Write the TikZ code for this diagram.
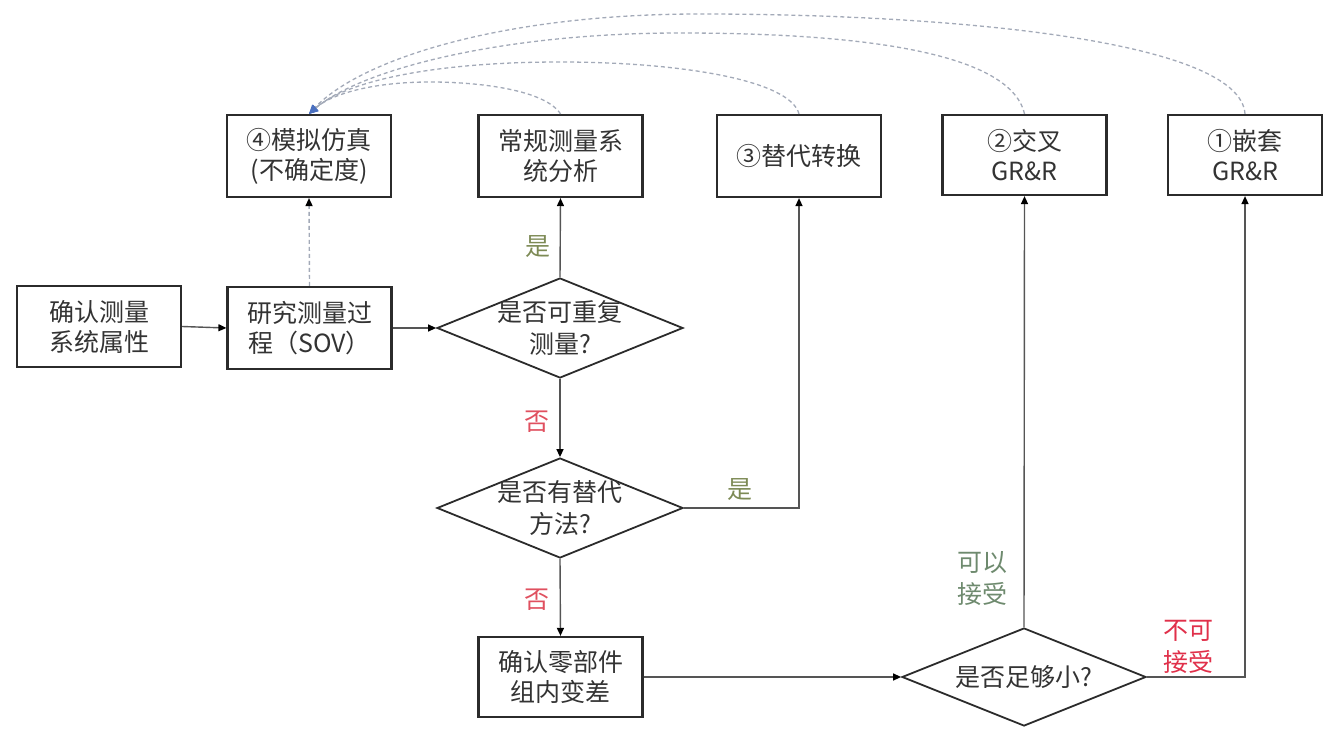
\documentclass[tikz,border=0pt]{standalone}
\usepackage{fontspec}
\setmainfont{Noto Sans CJK SC}
\usetikzlibrary{arrows.meta,shapes.geometric,calc}
\definecolor{txt}{HTML}{333333}
\definecolor{boxc}{HTML}{2B2B2B}
\definecolor{linec}{HTML}{555555}
\definecolor{arcc}{HTML}{A3AAB8}
\definecolor{arrowblue}{HTML}{4A70C0}
\definecolor{yesc}{HTML}{7D8A55}
\definecolor{noc}{HTML}{E0505F}
\definecolor{okc}{HTML}{6E8A6E}
\definecolor{nokc}{HTML}{E0304A}
\begin{document}
\begin{tikzpicture}[x=1pt,y=-1pt,
  box/.style={draw=boxc, line width=2.2pt, minimum width=164pt, minimum height=82pt, inner sep=0pt, align=center, font=\fontsize{25}{30}\selectfont, text=txt},
  dia/.style={draw=boxc, line width=1.8pt, diamond, minimum width=246pt, minimum height=100pt, inner sep=0pt},
  dtext/.style={align=center, font=\fontsize{25}{32}\selectfont, text=txt, inner sep=0pt},
  conn/.style={draw=linec, line width=1.4pt, -{Triangle[length=8pt,width=7pt,color=black]}},
  dconn/.style={draw=arcc, line width=1.4pt, dash pattern=on 4pt off 3pt, -{Triangle[length=8pt,width=7pt,color=black]}},
  arcl/.style={draw=arcc, line width=1.3pt, dash pattern=on 4pt off 3pt, -{Triangle[length=9pt,width=8pt,color=arrowblue]}},
  lab/.style={align=center, font=\fontsize{25}{32}\selectfont, inner sep=0pt}
]
\useasboundingbox (0,0) rectangle (1325,730);

% top row
\node[box] (a) at (309,156) {④模拟仿真\\(不确定度)};
\node[box] (b) at (560.5,156) {常规测量系\\统分析};
\node[box] (c) at (799,156) {③替代转换};
\node[box, minimum height=80pt] (d) at (1024.5,155) {②交叉\\GR\&R};
\node[box, minimum height=80pt, minimum width=154pt] (e) at (1245,155) {①嵌套\\GR\&R};

% middle row
\node[box, minimum height=81pt] (f) at (99,326.5) {确认测量\\系统属性};
\node[box] (g) at (309.5,328) {研究测量过\\程（SOV）};
\node[dia] (d1) at (560,328) {};
\node[dtext] (d1t) at (560,328) {是否可重复\\测量?};
\node[dia] (d2) at (560,508) {};
\node[dtext] (d2t) at (560,508) {是否有替代\\方法?};

% bottom row
\node[box, minimum height=80pt] (h) at (560.5,677) {确认零部件\\组内变差};
\node[dia, minimum width=244pt, minimum height=98pt] (d3) at (1024,677) {};
\node[dtext] (d3t) at (1024,677) {是否足够小?};

% connectors
\draw[conn] (f.east) -- (g.west);
\draw[conn] (g.east) -- (d1.west);
\draw[conn] (d1.north) -- (b.south);
\draw[conn] (d1.south) -- (d2.north);
\draw[conn] (d2.east) -| (c.south);
\draw[conn] (d2.south) -- (h.north);
\draw[conn] (h.east) -- (d3.west);
\draw[conn] (d3.north) -- (d.south);
\draw[conn] (d3.east) -| (e.south);
\draw[dconn] (g.north) -- (a.south);

% dashed arcs to simulation box
\draw[arcl] (e.north) .. controls (1240,40) and (950,14) .. (700,14)
  .. controls (500,14) and (360,60) .. (a.north);
\draw[arcl] (d.north) .. controls (1010,50) and (850,33) .. (680,33)
  .. controls (500,33) and (360,70) .. (a.north);
\draw[arcl] (c.north) .. controls (790,80) and (680,62) .. (560,62)
  .. controls (430,62) and (345,82) .. (a.north);
\draw[arcl] (b.north) .. controls (545,90) and (480,82) .. (430,82)
  .. controls (370,82) and (330,95) .. (a.north);

% labels
\node[lab, text=yesc] (l1) at (538,247) {是};
\node[lab, text=noc] (l2) at (537,422) {否};
\node[lab, text=yesc] (l3) at (740,490) {是};
\node[lab, text=noc] (l4) at (537,600) {否};
\node[lab, text=okc] (l5) at (982,579) {可以\\接受};
\node[lab, text=nokc] (l6) at (1188,647) {不可\\接受};
\end{tikzpicture}
\end{document}
